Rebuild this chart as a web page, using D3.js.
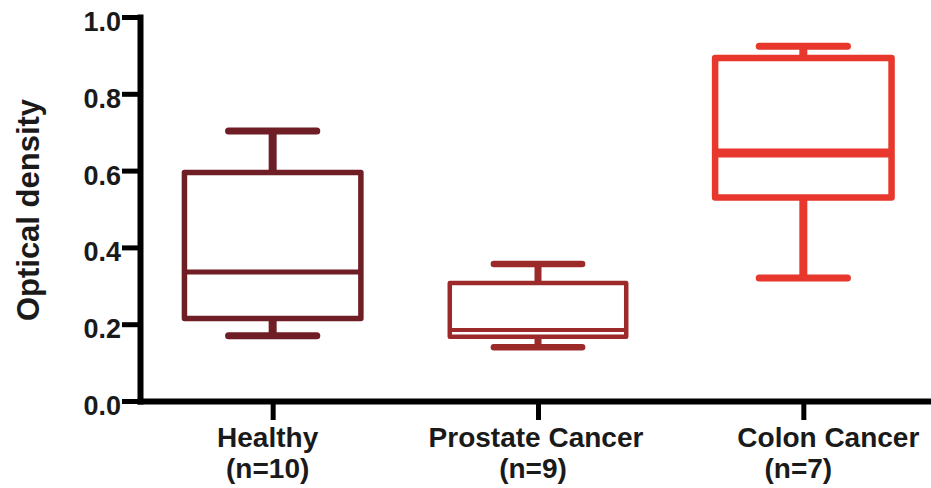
<!DOCTYPE html>
<html>
<head>
<meta charset="utf-8">
<script src="https://cdn.jsdelivr.net/npm/d3@7"></script>
<style>
  html, body { margin: 0; padding: 0; background: #fff; }
  svg { display: block; }
  text { font-family: "Liberation Sans", Arial, sans-serif; font-weight: bold; fill: #1a1a1a; }
</style>
</head>
<body>
<svg id="chart" width="931" height="488"></svg>
<script>
// Box-plot summaries of optical density per group
const groups = ["Healthy", "Prostate Cancer", "Colon Cancer"];
const sampleSizes = [10, 9, 7];
const whiskerLow = [0.17, 0.14, 0.32];
const q1 = [0.215, 0.167, 0.53];
const medians = [0.336, 0.185, 0.646];
const q3 = [0.595, 0.307, 0.893];
const whiskerHigh = [0.703, 0.357, 0.924];
const yTicks = [0.0, 0.2, 0.4, 0.6, 0.8, 1.0];

// Drawing styles per group
const colors = ["#6e1e24", "#9c2a2a", "#e8372c"];
const boxStroke = [5.5, 4.5, 6.5];
const medianStroke = [5, 4, 9];
const stemStroke = [8, 7, 8];
const capStroke = [7, 6.5, 7];

const svg = d3.select("#chart");
const plotLeft = 140, plotBottom = 401, plotTop = 17, plotRight = 936;

const y = d3.scaleLinear().domain([0, 1]).range([plotBottom, plotTop]);
const x = d3.scalePoint().domain(groups).range([plotLeft, plotRight]).padding(0.5);
const step = x.step();
const boxW = step * 0.665;
const capW = boxW * 0.5;

// Y axis
const yAxis = svg.append("g")
  .attr("transform", `translate(${plotLeft},0)`)
  .call(d3.axisLeft(y).tickValues(yTicks).tickFormat(d3.format(".1f"))
    .tickSize(18).tickSizeOuter(0).tickPadding(1));
yAxis.select(".domain").attr("stroke", "#000").attr("stroke-width", 6).attr("stroke-linecap", "square");
yAxis.selectAll(".tick line").attr("stroke", "#000").attr("stroke-width", 5);
yAxis.selectAll(".tick text")
  .attr("dy", "0.5em")
  .style("font-size", "27px")
  .style("font-family", "'Liberation Sans', Arial, sans-serif")
  .style("font-weight", "bold")
  .attr("fill", "#1a1a1a");

// X axis
const xAxis = svg.append("g")
  .attr("transform", `translate(0,${plotBottom})`)
  .call(d3.axisBottom(x).tickSize(19).tickSizeOuter(0).tickFormat(""));
xAxis.select(".domain").attr("stroke", "#000").attr("stroke-width", 6).attr("stroke-linecap", "square");
xAxis.selectAll(".tick line").attr("stroke", "#000").attr("stroke-width", 5);

// Category labels: group name and sample size on two lines
const nameShift = [-5, -2, 25];
const labels = svg.append("g").selectAll("text")
  .data(groups)
  .join("text")
  .attr("text-anchor", "middle")
  .style("font-size", "28px");
labels.append("tspan")
  .attr("x", (d, i) => x(d) + nameShift[i])
  .attr("y", 447)
  .text(d => d);
labels.append("tspan")
  .attr("x", (d, i) => x(d) - 5)
  .attr("y", 478)
  .text((d, i) => `(n=${sampleSizes[i]})`);

// Y axis title
svg.append("text")
  .attr("transform", "translate(39,210) rotate(-90)")
  .attr("text-anchor", "middle")
  .style("font-size", "31px")
  .text("Optical density");

// Boxes
const boxes = svg.append("g").selectAll("g")
  .data(groups)
  .join("g")
  .attr("fill", "none")
  .attr("stroke", (d, i) => colors[i]);

// whisker stems
boxes.append("line")
  .attr("x1", d => x(d)).attr("x2", d => x(d))
  .attr("y1", (d, i) => y(whiskerHigh[i])).attr("y2", (d, i) => y(q3[i]))
  .attr("stroke-width", (d, i) => stemStroke[i]);
boxes.append("line")
  .attr("x1", d => x(d)).attr("x2", d => x(d))
  .attr("y1", (d, i) => y(q1[i])).attr("y2", (d, i) => y(whiskerLow[i]))
  .attr("stroke-width", (d, i) => stemStroke[i]);

// whisker caps
[whiskerHigh, whiskerLow].forEach(arr => {
  boxes.append("line")
    .attr("x1", d => x(d) - capW / 2).attr("x2", d => x(d) + capW / 2)
    .attr("y1", (d, i) => y(arr[i])).attr("y2", (d, i) => y(arr[i]))
    .attr("stroke-width", (d, i) => capStroke[i])
    .attr("stroke-linecap", "round");
});

// interquartile box
boxes.append("rect")
  .attr("x", d => x(d) - boxW / 2)
  .attr("width", boxW)
  .attr("y", (d, i) => y(q3[i]))
  .attr("height", (d, i) => y(q1[i]) - y(q3[i]))
  .attr("fill", "#fff")
  .attr("stroke-width", (d, i) => boxStroke[i])
  .attr("stroke-linejoin", "round");

// median
boxes.append("line")
  .attr("x1", d => x(d) - boxW / 2).attr("x2", d => x(d) + boxW / 2)
  .attr("y1", (d, i) => y(medians[i])).attr("y2", (d, i) => y(medians[i]))
  .attr("stroke-width", (d, i) => medianStroke[i]);
</script>
</body>
</html>
